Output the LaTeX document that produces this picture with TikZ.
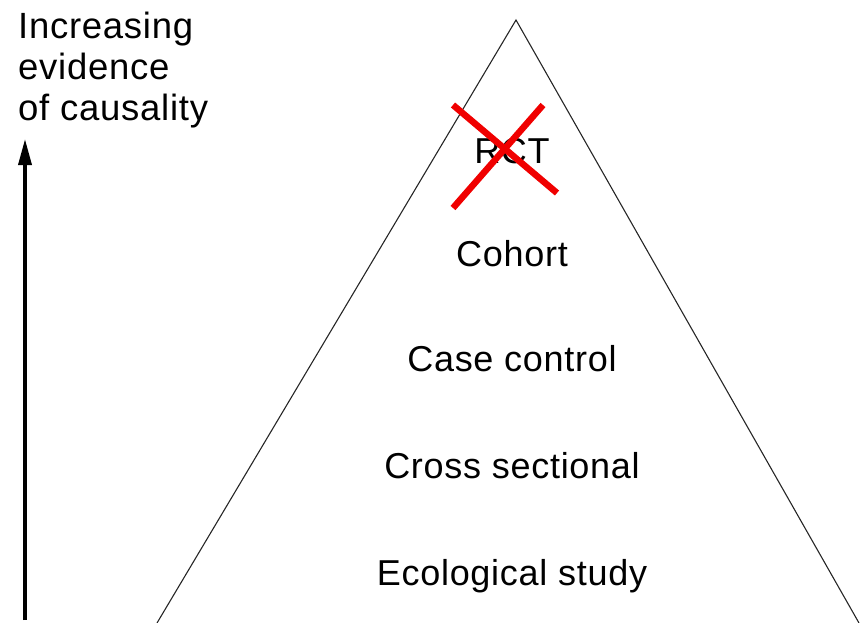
\documentclass[tikz,border=0pt]{standalone}
\usepackage{fontspec}
\setmainfont{Liberation Sans}[LetterSpace=2]
\usetikzlibrary{arrows.meta}
\definecolor{crossred}{RGB}{240,0,0}
\begin{document}
\begin{tikzpicture}[x=1pt,y=-1pt,
  lvl/.style={font=\fontsize{36}{40}\selectfont, inner sep=0pt, anchor=base},
  edge/.style={line width=1.1pt, black!85},
  cross/.style={line width=6.5pt, crossred}]
\useasboundingbox (0,0) rectangle (867,622);
% pyramid
\coordinate (apex) at (516,20);
\coordinate (bl) at (157,623);
\coordinate (br) at (859,623);
\draw[edge] (bl) -- (apex) -- (br);
% levels
\node[lvl] (rct) at (512,163) {RCT};
\node[lvl] (cohort) at (512,266) {Cohort};
\node[lvl] (case) at (512,371) {Case control};
\node[lvl] (cross) at (512,478) {Cross sectional};
\node[lvl] (eco) at (512,585) {Ecological study};
% red cross
\coordinate (c1a) at (453,105);
\coordinate (c1b) at (557,193);
\coordinate (c2a) at (543,105);
\coordinate (c2b) at (453,208);
\draw[cross] (c1a) -- (c1b);
\draw[cross] (c2a) -- (c2b);
% axis
\node[font=\fontsize{36.5}{41}\selectfont, inner sep=0pt, anchor=north west, align=left] (title) at (18,12)
  {Increasing\\evidence\\of causality};
\coordinate (abot) at (25,620);
\coordinate (atop) at (25,139);
\draw[line width=3.5pt, -{Triangle[length=26pt,width=13pt]}] (abot) -- (atop);
\end{tikzpicture}
\end{document}
